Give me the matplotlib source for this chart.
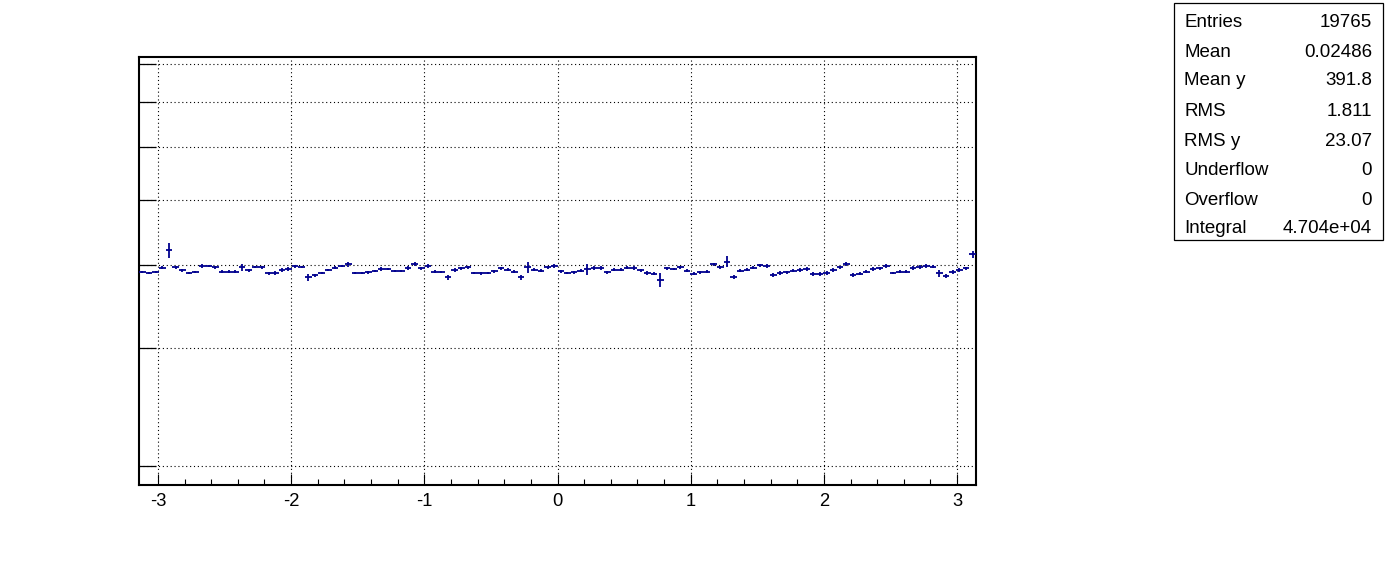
import numpy as np
import matplotlib
matplotlib.use("Agg")
import matplotlib.pyplot as plt
from matplotlib.patches import Rectangle
from matplotlib.ticker import FixedLocator, NullLocator, NullFormatter

# ---------------- data ----------------
x_min, x_max = -np.pi, np.pi
n_bins = 126

profile_mean = [
    389.5, 388.2, 389.5, 395.9, 420.2, 396.2, 392.1, 388.2, 389.8, 397.7,
    397.7, 396.2, 390.5, 390.5, 390.5, 396.2, 392.1, 396.2, 396.2, 388.2,
    389.1, 392.9, 393.8, 397.5, 396.2, 382.7, 385.4, 388.8, 392.5, 395.9,
    397.9, 400.3, 388.8, 388.8, 389.4, 391.1, 393.8, 394.5, 391.1, 391.1,
    395.6, 400.7, 394.9, 397.7, 390.5, 389.5, 382.7, 392.2, 394.9, 396.2,
    388.2, 388.2, 388.2, 391.1, 394.9, 392.8, 390.5, 382.7, 396.2, 393.2,
    391.8, 396.2, 397.7, 390.7, 388.5, 389.8, 391.8, 393.6, 395.2, 395.2,
    389.4, 393.2, 393.2, 395.9, 395.2, 392.5, 389.1, 387.8, 379.9, 394.8,
    394.2, 396.2, 391.8, 387.8, 389.4, 390.5, 400.4, 396.2, 404.2, 383.8,
    391.8, 393.2, 395.9, 399.0, 397.7, 385.5, 388.7, 389.4, 391.8, 392.2,
    393.6, 387.1, 387.1, 388.2, 392.2, 396.2, 400.7, 385.5, 387.8, 390.5,
    393.6, 394.9, 397.7, 388.7, 390.5, 390.5, 395.2, 396.6, 397.9, 397.2,
    388.2, 384.2, 389.5, 392.2, 394.9, 414.4,
]

profile_err = [
    1.5, 1.5, 1.5, 2.5, 11.5, 1.8, 2.5, 1.5, 1.8, 2.5,
    1.5, 1.8, 2.5, 1.5, 1.5, 5.0, 2.5, 1.5, 1.8, 1.8,
    2.5, 2.5, 2.5, 1.5, 1.5, 5.0, 2.0, 1.8, 1.8, 2.0,
    1.8, 3.0, 1.5, 1.5, 1.5, 1.8, 2.5, 1.5, 1.5, 1.8,
    2.5, 3.0, 2.5, 2.5, 2.5, 1.5, 3.0, 2.5, 1.8, 2.5,
    1.5, 2.0, 1.5, 2.0, 2.5, 2.0, 2.5, 3.0, 7.0, 2.5,
    1.8, 2.5, 2.5, 2.0, 1.5, 2.0, 2.0, 7.0, 2.5, 2.5,
    2.5, 2.0, 1.8, 2.5, 2.5, 2.0, 2.5, 1.5, 9.0, 2.5,
    1.8, 2.5, 2.5, 1.5, 1.5, 2.5, 2.5, 2.5, 8.0, 2.5,
    2.5, 2.5, 2.5, 2.5, 2.5, 2.5, 2.5, 2.5, 2.5, 2.5,
    2.5, 2.5, 2.5, 2.5, 2.5, 2.5, 2.5, 2.5, 2.5, 2.5,
    2.5, 2.5, 2.5, 1.8, 2.5, 1.8, 2.5, 2.5, 2.5, 2.5,
    5.0, 2.5, 2.5, 2.5, 2.5, 4.5,
]

x_ticks = [-3, -2, -1, 0, 1, 2, 3]
x_tick_labels = ["-3", "-2", "-1", "0", "1", "2", "3"]
x_minor_ticks = [v / 10 for v in range(-30, 31, 2) if v % 10 != 0]
y_ticks = [200, 300, 400, 500, 600, 700, 800]
y_range = (187.1, 818.4)

stat_names = ["Entries", "Mean", "Mean y", "RMS", "RMS y", "Underflow", "Overflow", "Integral"]
stat_values = ["19765", "0.02486", "391.8", "1.811", "23.07", "0", "0", "4.704e+04"]

# ---------------- drawing ----------------
plt.rcParams['font.family'] = ['Liberation Sans', 'DejaVu Sans']
plt.rcParams['axes.unicode_minus'] = False

W, H = 1396, 572
fig = plt.figure(figsize=(W / 100, H / 100), dpi=100)
fig.patch.set_facecolor("white")

ax = fig.add_axes([139 / W, (H - 485) / H, 837 / W, 428 / H])
ax.set_yscale("log")
ax.set_xlim(x_min, x_max)
ax.set_ylim(*y_range)

edges = np.linspace(x_min, x_max, n_bins + 1)
centers = 0.5 * (edges[:-1] + edges[1:])
half = 0.5 * (edges[1] - edges[0])

ax.errorbar(centers, profile_mean, xerr=half, yerr=profile_err, fmt="none",
            ecolor="#00008f", elinewidth=1.3, capsize=0, zorder=3)

# axes / ticks
ax.xaxis.set_major_locator(FixedLocator(x_ticks))
ax.set_xticklabels(x_tick_labels)
ax.xaxis.set_minor_locator(FixedLocator(x_minor_ticks))
ax.yaxis.set_major_locator(FixedLocator(y_ticks))
ax.yaxis.set_major_formatter(NullFormatter())
ax.yaxis.set_minor_locator(NullLocator())
ax.yaxis.set_minor_formatter(NullFormatter())

ax.tick_params(axis="x", which="major", direction="in", length=8, width=0.8,
               labelsize=13.2, pad=5.5, top=False, colors="black")
ax.tick_params(axis="x", which="minor", direction="in", length=4, width=0.8, top=False)
ax.tick_params(axis="y", which="major", direction="in", length=12, width=0.9,
               right=False, labelleft=False)

for s in ax.spines.values():
    s.set_linewidth(1.5)
    s.set_color("black")

ax.set_axisbelow(True)
ax.grid(True, which="major", linestyle=(0, (1, 2.5)), color="black", linewidth=0.8)

# stats box
box_l, box_t, box_r, box_b = 1174, 3, 1383, 240
fig.patches.append(Rectangle((box_l / W, 1 - box_b / H), (box_r - box_l) / W,
                             (box_b - box_t) / H, transform=fig.transFigure,
                             facecolor="white", edgecolor="black", linewidth=0.9))
row_baselines = [27.3, 56.7, 85.0, 116.0, 145.7, 175.0, 205.0, 233.3]
for name, val, yb in zip(stat_names, stat_values, row_baselines):
    fig.text(1184 / W, 1 - yb / H, name, ha="left", va="baseline", fontsize=13.5)
    fig.text(1372 / W, 1 - yb / H, val, ha="right", va="baseline", fontsize=13.5)

fig.savefig("out.png", dpi=100, facecolor="white")
